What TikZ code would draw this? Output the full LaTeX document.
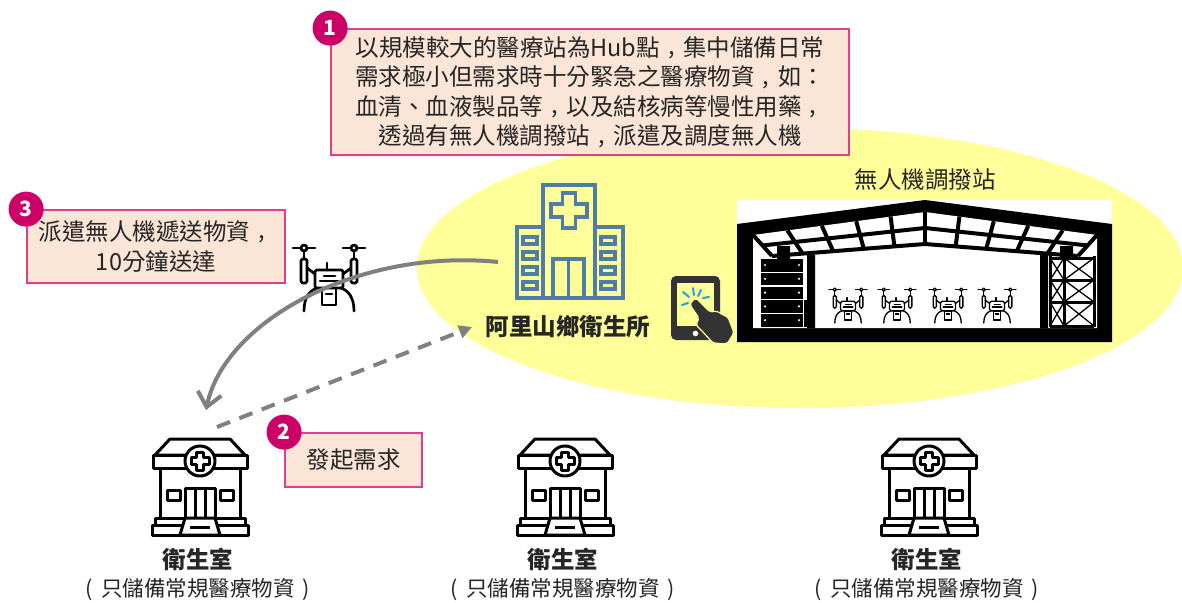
\documentclass[tikz,border=0pt]{standalone}
\usepackage{fontspec}
\setmainfont{Noto Sans CJK TC}
\usetikzlibrary{arrows.meta,calc}

\definecolor{ink}{HTML}{262626}
\definecolor{hubyellow}{HTML}{FFFF99}
\definecolor{notefill}{HTML}{FBE5D6}
\definecolor{noteline}{HTML}{E0408A}
\definecolor{badgefill}{HTML}{CC0066}
\definecolor{flowgray}{HTML}{808080}
\definecolor{hospblue}{HTML}{4F7DA6}
\definecolor{tapblue}{HTML}{1BA1E2}
\definecolor{device}{HTML}{333333}

\newcommand{\bodytext}{\fontsize{23.5}{29.5}\selectfont}
\newcommand{\notetext}{\fontsize{21.5}{24}\selectfont}
% full-width comma set in the middle of its square, Taiwan style
\newcommand{\midcomma}{\makebox[1em][c]{\raisebox{0.08em}{,}}}

\tikzset{
  note/.style={draw=noteline, fill=notefill, line width=1.8pt, inner sep=0pt,
    text=ink, font=\bodytext, align=center},
  badge/.style={circle, fill=badgefill, minimum size=35pt, inner sep=0pt,
    text=white, font=\fontsize{21}{21}\selectfont\bfseries},
  caption/.style={text=ink, font=\bodytext, inner sep=0pt},
  boldcaption/.style={text=ink, font=\bodytext\bfseries, inner sep=0pt},
  notecaption/.style={text=ink, font=\notetext, inner sep=0pt},
  iconbox/.style={inner sep=0pt, outer sep=0pt},
  flow/.style={draw=flowgray, line width=4pt},
  drone/.pic={
    \begin{scope}[line cap=round, line join=round]
      \draw (-36,5) -- (-14,5) (14,5) -- (36,5);
      \draw[fill=white] (-25,5) circle[radius=3] (25,5) circle[radius=3];
      \draw (-25,8) -- (-25,16) (25,8) -- (25,16);
      \draw[rounded corners=1.5] (-28,16) rectangle (-22,40);
      \draw[rounded corners=1.5] (22,16) rectangle (28,40);
      \draw (-22,25) -- (-14,31) (22,25) -- (14,31);
      \draw[rounded corners=1.5] (-14,27) rectangle (14,45);
      \draw (-2,27) -- (-2,20);
      \draw (-5,33) -- (6,33) (-9,38) -- (9,38);
      \draw (-12,45) .. controls (-20,48) and (-25,55) .. (-25,68);
      \draw (12,45) .. controls (20,48) and (25,55) .. (25,68);
      \draw (-7,45) rectangle (7,62);
      \draw (-3,51) -- (3,51);
    \end{scope}
  },
  clinic/.pic={
    \begin{scope}[line join=round]
      \draw[fill=white] (-30,1) -- (30,1) -- (45,17) -- (-45,17) -- cycle;
      \draw[fill=white] (-47,17) rectangle (47,30);
      \draw (-40,30) -- (-40,80) (40,30) -- (40,80);
      \draw (-33,52) rectangle (-20,62) (20,52) rectangle (33,62);
      \draw (-15,50) rectangle (15,80) (-5,50) -- (-5,80) (5,50) -- (5,80);
      \draw[fill=white] (-45,80) rectangle (45,87);
      \draw[fill=white] (-48,87) rectangle (48,97);
      \draw[fill=white] (-15,80) -- (15,80) -- (20,97) -- (-20,97) -- cycle;
      \draw (-10,89) -- (10,89);
      \draw[fill=white] (0,23) circle[radius=15];
      \draw (-3.5,14) -- (3.5,14) -- (3.5,19.5) -- (9,19.5) -- (9,26.5) -- (3.5,26.5)
        -- (3.5,32) -- (-3.5,32) -- (-3.5,26.5) -- (-9,26.5) -- (-9,19.5) -- (-3.5,19.5) -- cycle;
    \end{scope}
  }
}

\begin{document}
\begin{tikzpicture}[x=1pt, y=-1pt]
\useasboundingbox (0,0) rectangle (1182,602);
\fill[white] (0,0) rectangle (1182,602);

% service area of the hub
\fill[hubyellow] (800,268) ellipse [x radius=383, y radius=140];

% ---------- hub health centre ----------
\node[iconbox, minimum width=106pt, minimum height=115pt] (hosp) at (570,241.5) {};
\begin{scope}[hospblue, line width=3.5pt]
  \draw (543,185) rectangle (595,298);
  \draw (543,227) -- (517,227) -- (517,298) -- (623,298) -- (623,227) -- (595,227);
  \draw (562.5,193) -- (575.5,193) -- (575.5,204) -- (587,204) -- (587,217) -- (575.5,217)
    -- (575.5,228) -- (562.5,228) -- (562.5,217) -- (551,217) -- (551,204) -- (562.5,204) -- cycle;
  \draw (553,259) rectangle (584,298) (568.5,259) -- (568.5,298);
  \foreach \y in {237,252,267,282} {
    \draw (523,\y) rectangle (537,\y+7);
    \draw (601,\y) rectangle (615,\y+7);
  }
\end{scope}
\node[boldcaption] (hospname) at (568,327) {阿里山鄉衛生所};

% ---------- tablet with tapping hand ----------
\node[iconbox, minimum width=60pt, minimum height=66pt] (tablet) at (702,309) {};
\fill[device, rounded corners=5pt] (671,276) rectangle (720,340);
\fill[hubyellow] (677,283) rectangle (714,326);
\fill[white] (695.5,333.5) circle[radius=2.8];
\filldraw[fill=device, draw=hubyellow, line width=1.2pt, rounded corners=2pt]
  (691,302) -- (696,298) -- (710,312) -- (717,311) -- (723,315) -- (728,317)
  -- (734,333) -- (727,344) -- (713,343) -- (702,331) -- (696,325) -- (699,318)
  -- (690,305) -- cycle;
\begin{scope}[tapblue, line width=2pt, line cap=round]
  \draw (683,292) -- (689,297) (693,288) -- (694,295) (701,290) -- (698,296)
        (682,305) -- (688,303) (703,298) -- (709,297);
\end{scope}

% ---------- drone dispatch depot ----------
\node[caption] (depotname) at (925,180) {無人機調撥站};
\node[fill=white, iconbox, minimum width=375pt, minimum height=142pt] (depot) at (924.5,271) {};
\fill[black] (737,342) -- (737,224) -- (925,200) -- (1112,224) -- (1112,342) -- cycle;
\fill[white] (753,328) -- (753,235) -- (925,212) -- (1097,235) -- (1097,328) -- cycle;
\begin{scope}[line width=4pt]
  \foreach \s in {0,0.2,0.4,0.6,0.8} {
    \draw ($(753,235)!\s!(925,212)$) -- ($(772,256)!\s!(925,244)$);
    \draw ($(1097,235)!\s!(925,212)$) -- ($(1078,256)!\s!(925,244)$);
  }
  \draw (925,212) -- (925,244);
  \draw (762,245.5) -- (925,228) -- (1088,245.5);
  \draw (772,256) -- (925,244) -- (1078,256);
\end{scope}
\fill[black] (777,246) rectangle (790,259) (1060,246) rectangle (1073,259);
\fill[black] (807,255) rectangle (815,328) (1040,255) rectangle (1048,328);
% storage rack
\foreach \i in {0,...,4} {
  \fill[black] (761,259+\i*13.8) rectangle (803,271.5+\i*13.8);
  \fill[white] (765,265+\i*13.8) circle[radius=1.2] (799,265+\i*13.8) circle[radius=1.2];
}
\fill[black] (804,300) rectangle (807,327);
% shelving
\begin{scope}[line width=3pt]
  \draw (1050,256) -- (1050,327) (1064,256) -- (1064,327) (1094,256) -- (1094,327);
  \foreach \y in {258,280,302,326} \draw (1050,\y) -- (1094,\y);
\end{scope}
\begin{scope}[line width=1.3pt]
  \foreach \a/\b in {258/280,280/302,302/326} {
    \draw (1050,\a) -- (1064,\b) (1064,\a) -- (1050,\b);
    \draw (1064,\a) -- (1094,\b) (1094,\a) -- (1064,\b);
  }
\end{scope}
% parked drones
\foreach \x in {848,897,948,997}
  \pic[scale=0.53, line width=1.3pt] at (\x,287) {drone};

% ---------- clinics ----------
\foreach \n/\x in {A/200,B/565,C/929} {
  \node[iconbox, minimum width=96pt, minimum height=98pt] (clinic\n) at (\x,487) {};
  \pic[line width=3pt] at (\x,438) {clinic};
  \node[boldcaption] (clinic\n name) at (\x-2,559) {衛生室};
  \node[notecaption] (clinic\n note) at (\x-2,590)
    {(\hspace{8pt}只儲備常規醫療物資\hspace{8pt})};
}

% ---------- delivery drone ----------
\pic[line width=2.7pt] at (329,243) {drone};

% ---------- flows ----------
\coordinate (flyFrom) at ($(hosp.west)+(-19,20.5)$);
\coordinate (flyTo) at (206,410);
\coordinate (reqFrom) at (217,427);
\coordinate (reqTo) at (472,327);
\draw[flow, -{Straight Barb[length=14pt, width=24pt]}]
  (flyFrom) .. controls (360,248) and (225,320) .. (flyTo);
\draw[flow, dash pattern=on 14pt off 10pt, -{Triangle[length=13pt, width=13pt]}]
  (reqFrom) -- (reqTo);

% ---------- notes ----------
\node[note, minimum width=518pt, minimum height=126pt] (note1) at (590,92)
  {以規模較大的醫療站為Hub點\midcomma 集中儲備日常\\需求極小但需求時十分緊急之醫療物資\midcomma 如：\\
   血清、血液製品等\midcomma 以及結核病等慢性用藥\midcomma\\透過有無人機調撥站\midcomma 派遣及調度無人機};
\node[badge] (badge1) at (note1.north west) {1};

\node[note, minimum width=258pt, minimum height=73pt] (note3) at (156,246.5)
  {派遣無人機遞送物資\midcomma\\10分鐘送達};
\node[badge] (badge3) at (note3.north west) {3};

\node[note, minimum width=137pt, minimum height=54pt] (note2) at (353.5,460) {發起需求};
\node[badge] (badge2) at (note2.north west) {2};

\end{tikzpicture}
\end{document}
